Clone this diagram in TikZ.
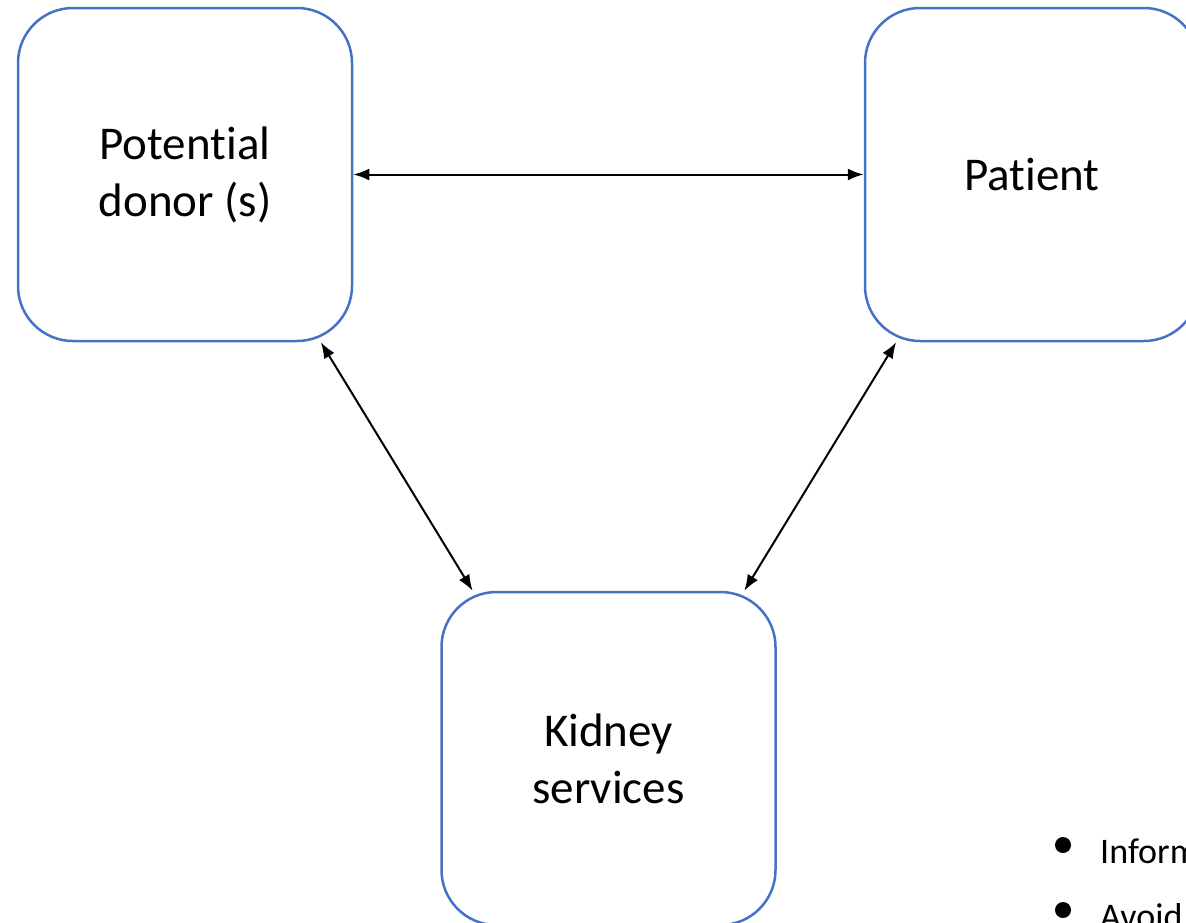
\documentclass[tikz,border=0pt]{standalone}
\usepackage{fontspec}
\setmainfont[Ligatures={NoCommon,NoRare,NoDiscretionary}]{Carlito}
\usetikzlibrary{arrows.meta}
\definecolor{boxblue}{HTML}{4472C4}
\tikzset{
  roundbox/.style={draw=boxblue, line width=2.5pt, rounded corners=55pt, fill=white,
    minimum width=334pt, minimum height=333pt, inner sep=0pt, align=center,
    font=\fontsize{47}{57}\selectfont},
  link/.style={line width=2pt, {Latex[length=16pt,width=12pt]}-{Latex[length=16pt,width=12pt]}},
  bullettext/.style={anchor=base west, inner sep=0pt, font=\fontsize{36}{42}\selectfont}
}
\begin{document}
\begin{tikzpicture}[x=1pt,y=-1pt]
\useasboundingbox (0,0) rectangle (1186,922);
\node[roundbox] (donor) at (185,174.5) {Potential\\donor (s)};
\node[roundbox] (patient) at (1032,174.5) {Patient};
\node[roundbox] (kidney) at (608.5,758.5) {Kidney\\services};
\draw[link] (donor.east) -- (patient.west);
\draw[link] (donor.-51) -- (kidney.129);
\draw[link] (patient.-129) -- (kidney.51);
\fill (1063,845) circle (8pt) coordinate (b1);
\fill (1063,910) circle (8pt) coordinate (b2);
\node[bullettext] (t1) at (1100,863) {Inform};
\node[bullettext] (t2) at (1100,928) {Avoid};
\end{tikzpicture}
\end{document}
